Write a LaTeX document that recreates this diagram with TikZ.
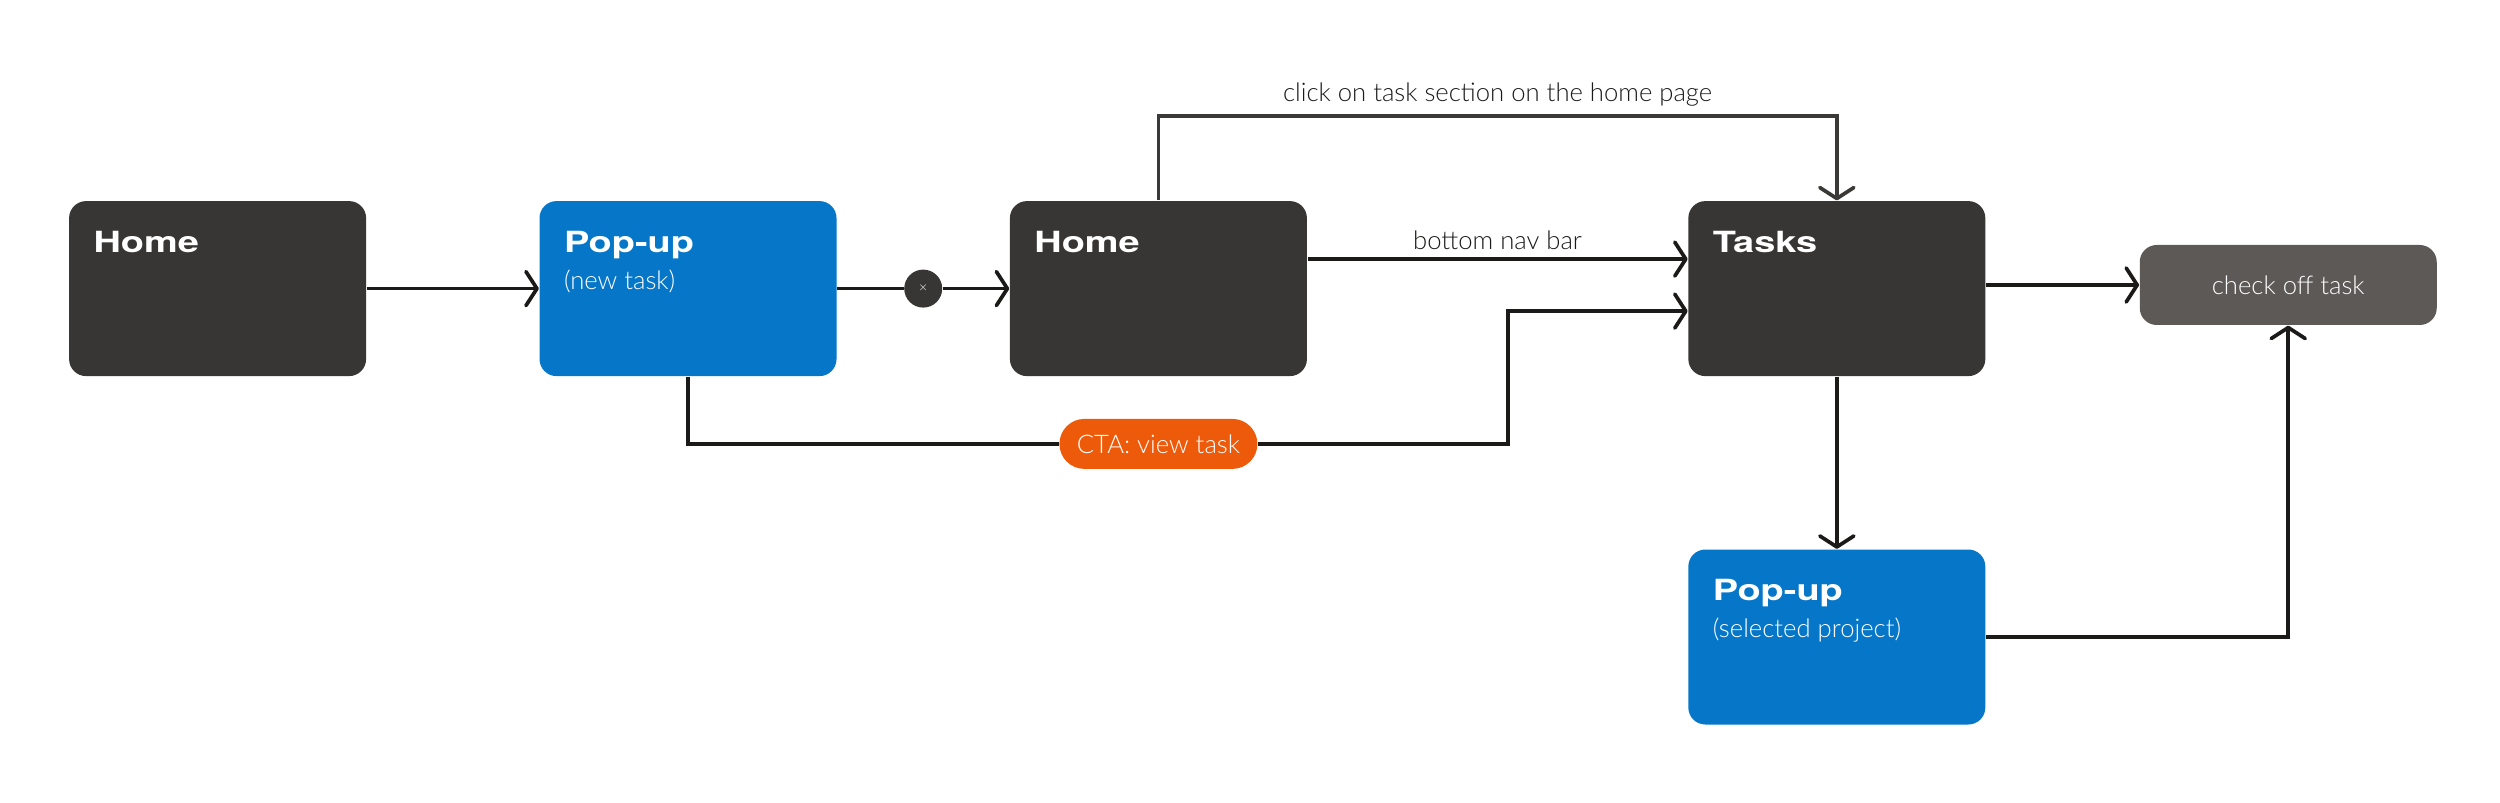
\documentclass[tikz,border=0pt]{standalone}
\usepackage{fontspec}
\usepackage{tikz}
\usetikzlibrary{positioning, arrows.meta, calc}
\newfontfamily\titlefont{TeX Gyre Heros}[FakeStretch=1.3]
\newfontfamily\lblfont{Lato Light}
\definecolor{screendark}{HTML}{383634}
\definecolor{popblue}{HTML}{0677C8}
\definecolor{ctaorange}{HTML}{EC5A0A}
\definecolor{donegray}{HTML}{5D5956}
\definecolor{linedark}{HTML}{1C1A19}
\definecolor{linegray}{HTML}{3B3937}

\begin{document}
\begin{tikzpicture}[
  node distance=17.2mm and 17.2mm,
  every node/.style={font=\lblfont\fontsize{7.3}{9}\selectfont},
  screen/.style={rectangle, rounded corners=1.7mm, fill=screendark,
                 minimum width=29.7mm, minimum height=17.5mm, inner sep=0pt},
  popup/.style={screen, fill=popblue},
  title/.style={anchor=base west, xshift=2.45mm, yshift=-5.2mm, text=white,
                inner sep=0pt, font=\titlefont\bfseries\fontsize{8.3}{10}\selectfont},
  sub/.style={anchor=base west, xshift=2.45mm, yshift=-8.9mm, text=white, inner sep=0pt},
  done/.style={rectangle, rounded corners=1.7mm, fill=donegray, text=white,
               minimum width=29.7mm, minimum height=8mm},
  action/.style={rectangle, rounded corners=2.5mm, fill=ctaorange, text=white,
                 minimum width=19.8mm, minimum height=5mm, inner sep=0pt},
  closer/.style={circle, fill=screendark, text=white, minimum size=3.8mm,
                 inner sep=0pt, font=\lblfont\fontsize{4}{4}\selectfont},
  link/.style={line width=0.37mm, draw=linedark},
  arrow/.style={link, -{Straight Barb[length=1.1mm, width=3.4mm, round]}},
  edge label/.style={above, inner sep=0.8mm, text=linedark}
]
\useasboundingbox (0,0) rectangle (25,-8.03);
% main row
\node[screen, label={[title]north west:Home}]           (home1)  at (2.176,-2.886) {};
\node[popup, right=of home1, label={[title]north west:Pop-up},
      label={[sub]north west:(new task)}]                  (popup1) {};
\node[screen, right=of popup1, label={[title]north west:Home}] (home2) {};
\node[screen, right=38mm of home2, label={[title]north west:Tasks}] (tasks) {};
\node[done, right=15.3mm of tasks, yshift=0.36mm]          (check)  {check off task};
% lower row
\node[popup, below=of tasks, label={[title]north west:Pop-up},
      label={[sub]north west:(selected project)}]          (popup2) {};
\node[action, below=4.14mm of home2]                       (cta)    {CTA: view task};
\path (popup1.east) -- node[closer] (closebtn) {×} (home2.west);

\draw[arrow] (home1.east) -- (popup1.west);
\draw[link]  (popup1.east) -- (closebtn);
\draw[arrow] (closebtn) -- (home2.west);
\draw[arrow] ([yshift=2.95mm]home2.east) -- node[edge label]{bottom nav bar}
             ([yshift=2.95mm]tasks.west);
% route over the top
\draw[arrow, draw=linegray] (home2.north) -- ++(0,8.45mm)
             -| node[pos=0.25, edge label]{click on task section on the home page}
             (tasks.north);
% CTA route underneath
\draw[link]  (popup1.south) |- (cta.west);
\draw[arrow] (cta.east) -- ++(25mm,0) |- ([yshift=-2.25mm]tasks.west);
\draw[arrow] (check.west -| tasks.east) -- (check.west);
\draw[arrow] (tasks.south) -- (popup2.north);
\draw[arrow] (popup2.east) -| (check.south);
\end{tikzpicture}
\end{document}
